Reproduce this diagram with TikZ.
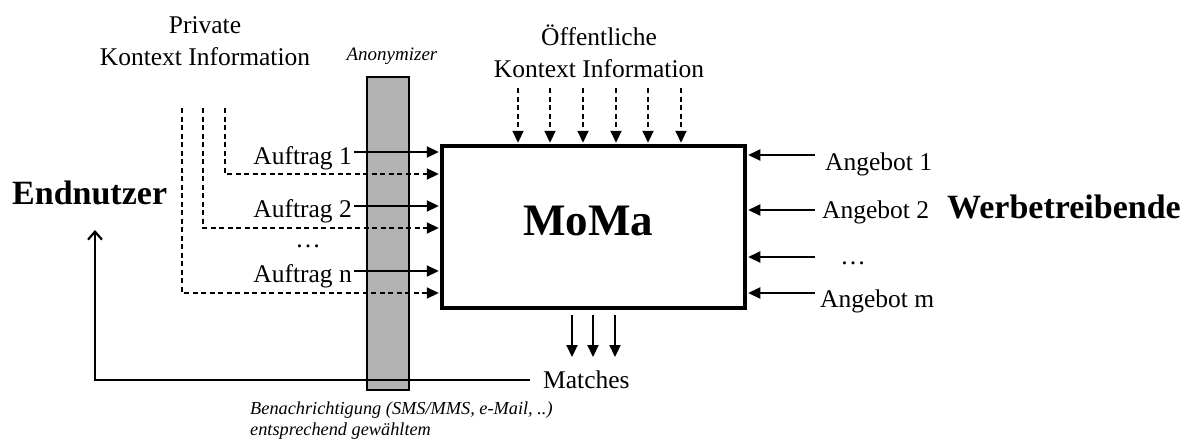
\documentclass[tikz,border=0pt]{standalone}
\usepackage{fontspec}
\setmainfont{Liberation Serif}
\usetikzlibrary{arrows.meta}
\begin{document}
\begin{tikzpicture}[x=1pt,y=-1pt,
  tip/.style={-{Triangle[length=12pt,width=11pt]}, shorten >=1.5pt},
  ln/.style={line width=2.2pt},
  dsh/.style={line width=2.2pt, dash pattern=on 5pt off 3.5pt},
  lbl/.style={font=\fontsize{25.5}{32}\selectfont, inner sep=0pt},
  big/.style={font=\fontsize{34}{38}\selectfont\bfseries, inner sep=0pt},
  sm/.style={font=\fontsize{19}{21}\selectfont\itshape, inner sep=0pt},
  note/.style={font=\fontsize{18.3}{21}\selectfont\itshape, inner sep=0pt}]
\useasboundingbox (0,0) rectangle (1193,439);
% anonymizer bar
\node[draw, line width=1.5pt, fill=gray!60, minimum width=42pt, minimum height=313pt, inner sep=0pt] (anon) at (388,233.5) {};
\node[sm, anchor=base] (anonl) at (392,60) {Anonymizer};
% MoMa box
\node[draw, line width=3.5pt, minimum width=303pt, minimum height=162pt, inner sep=0pt] (box) at (593.5,227) {};
\node[font=\fontsize{45}{50}\selectfont\bfseries, inner sep=0pt] (moma) at (588,221) {MoMa};
% labels
\node[lbl, anchor=base, align=center] (priv) at (205,65) {Private\\Kontext Information};
\node[lbl, anchor=base, align=center] (oeff) at (599,77) {Öffentliche\\Kontext Information};
\node[big, anchor=base west] (end) at (12,204) {Endnutzer};
\node[big, anchor=base west] (werb) at (947,218) {Werbetreibende};
% Auftraege
\node[lbl, anchor=base east] (a1) at (352,164) {Auftrag 1};
\node[lbl, anchor=base east] (a2) at (352,217) {Auftrag 2};
\node[lbl] (adots) at (308,246) {…};
\node[lbl, anchor=base east] (an) at (352,282) {Auftrag n};
\coordinate (a1s) at (354,152);
\coordinate (a2s) at (354,206);
\coordinate (ans) at (354,271);
\foreach \c in {a1s,a2s,ans} \draw[ln,tip] (\c) -- (\c -| box.west);
% dashed private context
\coordinate (d1) at (225,108);
\coordinate (d2) at (203,108);
\coordinate (d3) at (182,108);
\draw[dsh,tip] (d1) |- (box.west |- 0,174);
\draw[dsh,tip] (d2) |- (box.west |- 0,228);
\draw[dsh,tip] (d3) |- (box.west |- 0,293);
% public context
\foreach \x [count=\i] in {518,550,583,616,648,681} {
  \coordinate (t\i) at (\x,88);
  \draw[dsh,tip] (t\i) -- (t\i |- box.north);
}
% Angebote
\node[lbl, anchor=base west] (g1) at (825,170) {Angebot 1};
\node[lbl, anchor=base west] (g2) at (822,218) {Angebot 2};
\node[lbl] (gdots) at (853,263) {…};
\node[lbl, anchor=base west] (gm) at (820,307) {Angebot m};
\foreach \y [count=\i] in {155,210,257,293} {
  \coordinate (gs\i) at (815,\y);
  \draw[ln,tip] (gs\i) -- (gs\i -| box.east);
}
% Matches
\node[lbl, anchor=base west] (mt) at (543,388) {Matches};
\foreach \x [count=\i] in {572,593,615} {
  \coordinate (ms\i) at (\x,315);
  \draw[ln,-{Triangle[length=12pt,width=11pt]}] (ms\i) -- (\x,357);
}
\coordinate (m0) at (530,380);
\coordinate (eu) at (95,230);
\draw[ln,-{Straight Barb[length=8pt,width=14pt]}] (m0) -| (eu);
\node[note, anchor=base west, align=left] (ben) at (250,435) {Benachrichtigung (SMS/MMS, e-Mail, ..)\\entsprechend gewähltem};
\end{tikzpicture}
\end{document}
